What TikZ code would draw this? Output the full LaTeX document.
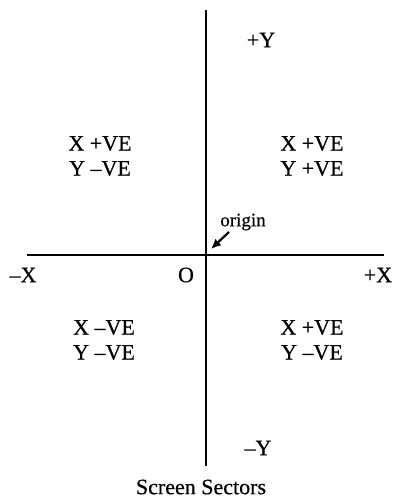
\documentclass[tikz,border=0pt]{standalone}
\usepackage{fontspec}
\setmainfont{Liberation Serif}
\newfontfamily\lblfont{Liberation Serif}[FakeBold=0.5]
\usetikzlibrary{arrows.meta}
\begin{document}
\begin{tikzpicture}[x=1pt,y=-1pt,
  axis/.style={line width=2.8pt},
  lbl/.style={font=\lblfont\fontsize{22}{25}\selectfont, inner sep=0pt, align=center},
  pointer/.style={line width=2.2pt,-{Latex[length=10pt,width=9pt]}}]
\useasboundingbox (0,0) rectangle (395,499);
\coordinate (ytop) at (206,10);
\coordinate (ybot) at (206,466);
\coordinate (xl) at (27,255);
\coordinate (xr) at (384,255);
\draw[axis] (ytop) -- (ybot);
\draw[axis] (xl) -- (xr);
\node[lbl] (py) at (261,40) {+Y};
\node[lbl] (ny) at (258,448) {–Y};
\node[lbl] (nx) at (23,275) {–X};
\node[lbl] (px) at (378,275) {+X};
\node[lbl] (o) at (186,275) {O};
\node[lbl] (q1) at (312,156) {X +VE\\Y +VE};
\node[lbl] (q2) at (100,156) {X +VE\\Y –VE};
\node[lbl] (q3) at (104,340) {X –VE\\Y –VE};
\node[lbl] (q4) at (312,340) {X +VE\\Y –VE};
\node[lbl, font=\lblfont\fontsize{19}{22}\selectfont] (org) at (243,222) {origin};
\coordinate (tip) at (211,249);
\draw[pointer] (229,232) -- (tip);
\node[lbl] (cap) at (201,487) {Screen Sectors};
\end{tikzpicture}
\end{document}
